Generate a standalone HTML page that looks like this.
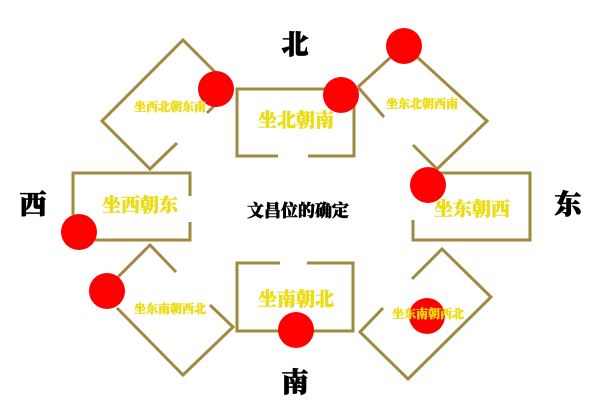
<!DOCTYPE html>
<html><head><meta charset="utf-8"><style>
html,body{margin:0;padding:0;background:#fff;}
svg{display:block;}
text{font-family:"Liberation Serif","Noto Serif CJK SC","Noto Sans CJK SC",serif;font-weight:900;text-anchor:middle;dominant-baseline:central;}
.y{fill:#ecdc10;stroke:#ecdc10;stroke-width:0.4;}
.k{fill:#000;stroke:#000;stroke-width:0.8;}
</style></head><body>
<svg width="600" height="400" viewBox="0 0 600 400">
<g fill="none" stroke="#a08a40" stroke-width="3">
<polyline points="177,143 150,169 102,121 183,40 215,72"/>
<polyline points="207,113 216,104"/>
<polyline points="278,156 237,156 237,89 330,89"/>
<polyline points="308,156 354,156 354,100"/>
<polyline points="358,87 392,56"/>
<polyline points="358,87 384,117"/>
<polyline points="416,56 487,121 436,170"/>
<polyline points="413,145 436,168"/>
<polyline points="73,215 73,173 190,173 190,196"/>
<polyline points="95,240 190,240 190,222"/>
<polyline points="440,173 530,173 530,240 413,240 413,220"/>
<polyline points="176,272 150,245 118,277"/>
<polyline points="117,308 183,375 233,327 210,305"/>
<polyline points="280,263 237,263 237,331 280,331"/>
<polyline points="307,263 353,263 353,331 312,331"/>
<polyline points="412,279 442,249 491,297 408,379 360,332 383,308"/>
</g>
<g fill="#ff0000">
<circle cx="216" cy="89" r="18"/>
<circle cx="341" cy="95" r="18"/>
<circle cx="404" cy="46" r="18"/>
<circle cx="428" cy="185" r="18"/>
<circle cx="79" cy="232" r="18"/>
<circle cx="107" cy="291" r="18"/>
<circle cx="296" cy="330" r="18"/>
<circle cx="427" cy="316" r="18"/>
</g>
<text class="k" x="295" y="45" font-size="27">北</text>
<text class="k" x="33" y="205" font-size="27">西</text>
<text class="k" x="568" y="205" font-size="27">东</text>
<text class="k" x="295" y="383" font-size="27">南</text>
<text class="k" x="298" y="211" font-size="17" style="stroke-width:0.5">文昌位的确定</text>
<text class="y" x="296" y="121" font-size="19">坐北朝南</text>
<text class="y" x="140" y="206" font-size="19">坐西朝东</text>
<text class="y" x="472" y="210" font-size="19">坐东朝西</text>
<text class="y" x="296" y="300" font-size="19">坐南朝北</text>
<text class="y" x="170" y="107" font-size="12">坐西北朝东南</text>
<text class="y" x="422" y="104" font-size="12">坐东北朝西南</text>
<text class="y" x="170" y="309" font-size="12">坐东南朝西北</text>
<text class="y" x="428" y="314" font-size="12">坐东南朝西北</text>
</svg>
</body></html>
